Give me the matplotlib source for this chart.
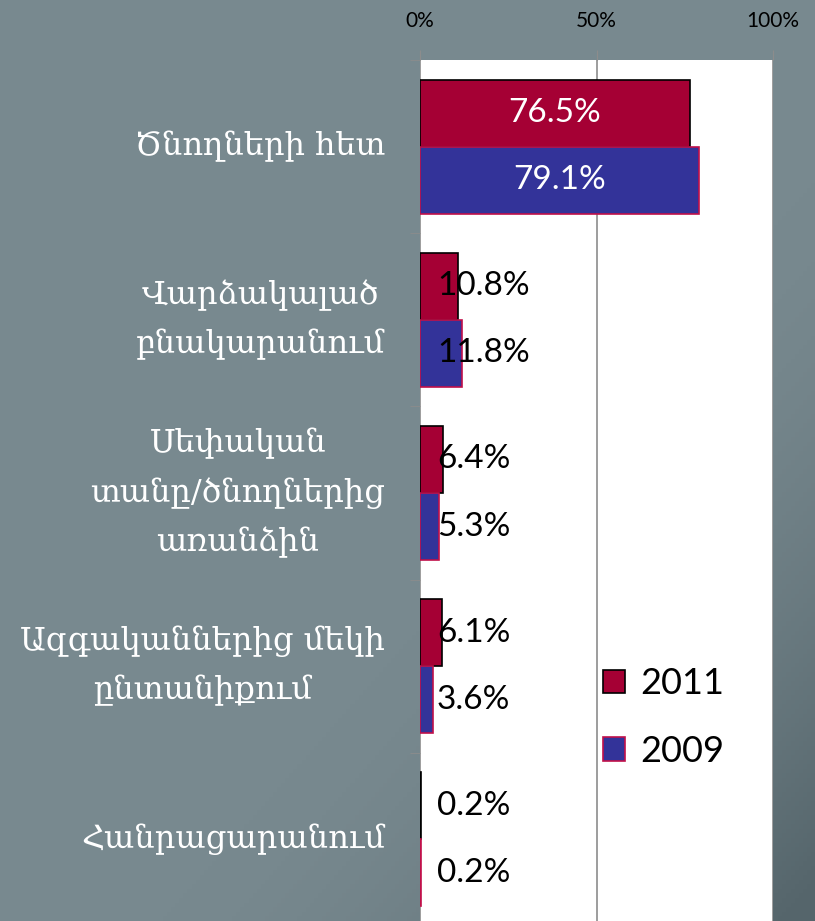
import numpy as np
import matplotlib
matplotlib.use('Agg')
import matplotlib.pyplot as plt
from matplotlib.patches import Patch

# data
categories = [
    'Ծնողների հետ',
    'Վարձակալած\nբնակարանում',
    'Սեփական\nտանը/ծնողներից\nառանձին',
    'Ազգականներից մեկի\nընտանիքում',
    'Հանրացարանում',
]
values_2011 = [76.5, 10.8, 6.4, 6.1, 0.2]
values_2009 = [79.1, 11.8, 5.3, 3.6, 0.2]
x_ticks = [0, 50, 100]
x_tick_labels = ['0%', '50%', '100%']

COLOR_2011 = '#A50034'
COLOR_2009 = '#333399'
EDGE_2011 = '#000000'
EDGE_2009 = '#C0104A'
BG_TOP = np.array([0x78, 0x89, 0x8F]) / 255
BG_CORNER = np.array([0x55, 0x65, 0x6B]) / 255

NUM_FONT = ['Lato', 'DejaVu Sans']
CAT_FONT = ['DejaVu Serif']

fig = plt.figure(figsize=(8.15, 9.21), dpi=100)

# background gradient (darker towards bottom-right corner)
bg = fig.add_axes([0, 0, 1, 1], zorder=-10)
gx, gy = np.meshgrid(np.linspace(0, 1, 200), np.linspace(0, 1, 200))
d = np.clip((gx - 0.6) * 1.3 + (gy - 0.6) * 1.3, 0, 1) ** 1.6
img = BG_TOP[None, None, :] * (1 - d[..., None]) + BG_CORNER[None, None, :] * d[..., None]
bg.imshow(img, extent=[0, 1, 0, 1], aspect='auto', origin='upper')
bg.axis('off')

ax = fig.add_axes([420 / 815, -5 / 921, 353 / 815, 866 / 921])
ax.set_facecolor('white')

y = np.arange(len(categories))
h = 0.387

ax.barh(y - h / 2, values_2011, height=h, color=COLOR_2011, edgecolor=EDGE_2011,
        linewidth=1.2, zorder=2, label='2011')
ax.barh(y + h / 2, values_2009, height=h, color=COLOR_2009, edgecolor=EDGE_2009,
        linewidth=1.2, zorder=2, label='2009')

# value labels
for yy, vals in [(y - h / 2, values_2011), (y + h / 2, values_2009)]:
    for yi, v in zip(yy, vals):
        if v > 40:
            ax.text(v / 2, yi, f'{v:.1f}%', ha='center', va='center', color='white',
                    fontsize=24, family=NUM_FONT, zorder=3)
        else:
            ax.text(4.8, yi, f'{v:.1f}%', ha='left', va='center', color='black',
                    fontsize=24, family=NUM_FONT, zorder=3)

ax.set_xlim(0, 100)
ax.set_ylim(len(categories) - 0.5, -0.5)

ax.xaxis.tick_top()
ax.set_xticks(x_ticks)
ax.set_xticklabels(x_tick_labels, fontsize=15, family=NUM_FONT, color='black')
ax.tick_params(axis='x', length=7, color='#8C8C8C', pad=14)
ax.grid(axis='x', color='#8C8C8C', linewidth=1.2, zorder=1)
ax.set_axisbelow(True)

ax.set_yticks(y)
ax.set_yticklabels(categories, fontsize=23, family=CAT_FONT, color='white',
                   linespacing=1.72, ha='right', va='center', multialignment='center')
ax.set_yticks(np.arange(len(categories) + 1) - 0.5, minor=True)
ax.tick_params(axis='y', which='major', length=0, pad=25)
ax.tick_params(axis='y', which='minor', length=7, color='#8C8C8C')

for s in ax.spines.values():
    s.set_visible(False)

handles = [Patch(facecolor=COLOR_2011, edgecolor=EDGE_2011, linewidth=1.2, label='2011'),
           Patch(facecolor=COLOR_2009, edgecolor=EDGE_2009, linewidth=1.2, label='2009')]
fig.legend(handles=handles, loc='upper left', bbox_to_anchor=(570 / 815, 1 - 635 / 921),
           frameon=False, prop={'family': NUM_FONT, 'size': 26},
           handlelength=0.62, handleheight=0.62, handletextpad=0.42, labelspacing=0.95)

fig.savefig('out.png', dpi=100)
